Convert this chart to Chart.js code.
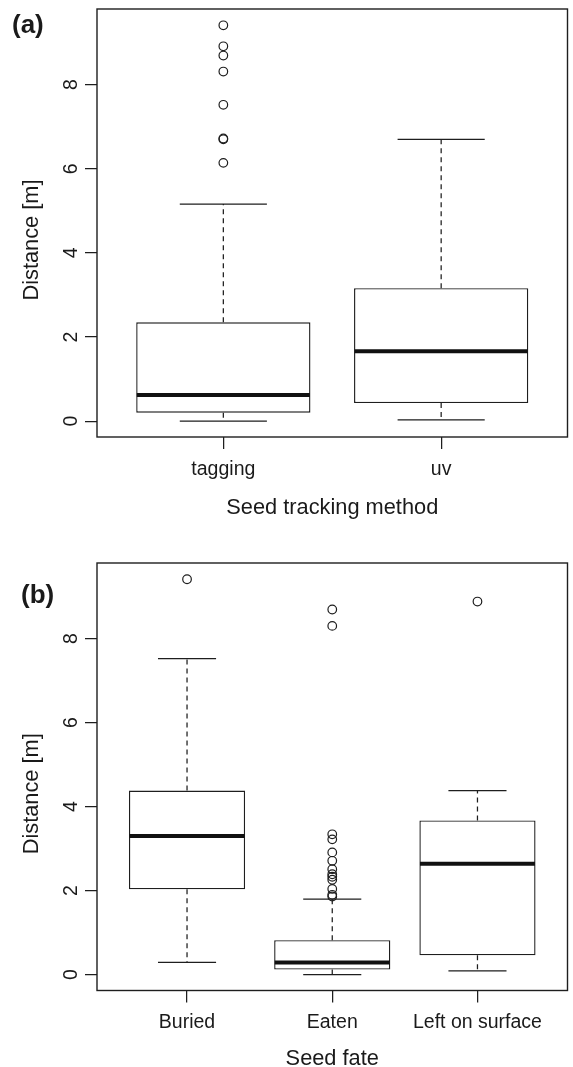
<!DOCTYPE html>
<html><head><meta charset="utf-8">
<script src="https://cdn.jsdelivr.net/npm/chart.js@4"></script>
<style>
html,body{margin:0;padding:0;background:#fff;}
#wrap{position:relative;width:573px;height:1067px;overflow:hidden;background:#fff;}
canvas{position:absolute;left:0;}
</style></head><body>
<div id="wrap">
<canvas id="ca" width="573" height="540" style="top:0px"></canvas>
<canvas id="cb" width="573" height="527" style="top:540px"></canvas>
</div>
<script>
// ---------- Panel (a): Seed tracking method ----------
const categoriesA = ['tagging', 'uv'];
const whiskerLowA = [0.00, 0.03];
const q1A = [0.20, 0.43];
const medianA = [0.62, 1.66];
const q3A = [2.35, 3.16];
const whiskerHighA = [5.16, 6.70];
const outliersTagging = [6.14, 6.70, 6.72, 7.52, 8.31, 8.69, 8.91, 9.41];
const outliersUv = [];

// ---------- Panel (b): Seed fate ----------
const categoriesB = ['Buried', 'Eaten', 'Left on surface'];
const whiskerLowB = [0.29, 0.00, 0.09];
const q1B = [2.03, 0.12, 0.46];
const medianB = [3.30, 0.29, 2.64];
const q3B = [4.38, 0.82, 3.67];
const whiskerHighB = [7.52, 1.80, 4.38];
const outliersBuried = [9.41];
const outliersEaten = [1.86, 1.90, 2.04, 2.26, 2.33, 2.39, 2.51, 2.71, 2.91, 3.22, 3.34, 8.30, 8.69];
const outliersLeft = [8.88];

const yTickValues = [0, 2, 4, 6, 8];
const yTitle = 'Distance [m]';

const INK = '#1e1e1e';
const FONT = "'Liberation Sans', Arial, Helvetica, sans-serif";

function makePanel(canvasId, p) {
  const canvas = document.getElementById(canvasId);
  const W = canvas.width, H = canvas.height;
  const n = p.categories.length;
  const boxData = p.categories.map((c, i) => ({ x: i + 1, y: [p.q1[i], p.q3[i]] }));
  const outData = [];
  p.outliers.forEach((arr, i) => arr.forEach(v => outData.push({ x: i + 1, y: v })));

  const decor = {
    id: 'decor_' + canvasId,
    beforeDatasetsDraw(chart) {
      const ctx = chart.ctx, xs = chart.scales.x, ys = chart.scales.y;
      ctx.save();
      ctx.strokeStyle = INK;
      ctx.lineWidth = 1.25;
      for (let i = 0; i < n; i++) {
        const cx = xs.getPixelForValue(i + 1);
        const capL = xs.getPixelForValue(i + 1 - 0.2), capR = xs.getPixelForValue(i + 1 + 0.2);
        ctx.setLineDash([5, 4]);
        ctx.beginPath();
        ctx.moveTo(cx, ys.getPixelForValue(p.q3[i]));
        ctx.lineTo(cx, ys.getPixelForValue(p.hi[i]));
        ctx.moveTo(cx, ys.getPixelForValue(p.q1[i]));
        ctx.lineTo(cx, ys.getPixelForValue(p.lo[i]));
        ctx.stroke();
        ctx.setLineDash([]);
        ctx.beginPath();
        const yh = ys.getPixelForValue(p.hi[i]), yl = ys.getPixelForValue(p.lo[i]);
        ctx.moveTo(capL, yh); ctx.lineTo(capR, yh);
        ctx.moveTo(capL, yl); ctx.lineTo(capR, yl);
        ctx.stroke();
      }
      ctx.restore();
    },
    afterDatasetsDraw(chart) {
      const ctx = chart.ctx, xs = chart.scales.x, ys = chart.scales.y;
      ctx.save();
      ctx.strokeStyle = '#111';
      ctx.lineWidth = 4;
      ctx.lineCap = 'butt';
      for (let i = 0; i < n; i++) {
        const l = xs.getPixelForValue(i + 1 - 0.4) + 0.6, r = xs.getPixelForValue(i + 1 + 0.4) - 0.6;
        const y = ys.getPixelForValue(p.med[i]);
        ctx.beginPath(); ctx.moveTo(l, y); ctx.lineTo(r, y); ctx.stroke();
      }
      ctx.restore();
    },
    afterDraw(chart) {
      const ctx = chart.ctx, xs = chart.scales.x, ys = chart.scales.y, a = chart.chartArea;
      ctx.save();
      ctx.strokeStyle = INK;
      ctx.lineWidth = 1.4;
      ctx.strokeRect(a.left, a.top, a.right - a.left, a.bottom - a.top);
      ctx.fillStyle = '#1a1a1a';
      // y tick labels (rotated, R style)
      ctx.font = '19.5px ' + FONT;
      ctx.textAlign = 'center';
      ctx.textBaseline = 'alphabetic';
      ys.ticks.forEach(t => {
        const y = ys.getPixelForValue(t.value);
        ctx.save();
        ctx.translate(a.left - 20, y);
        ctx.rotate(-Math.PI / 2);
        ctx.fillText(String(t.value), 0, 0);
        ctx.restore();
      });
      // x tick labels
      xs.ticks.forEach((t, i) => {
        ctx.fillText(p.categories[i], xs.getPixelForValue(t.value), a.bottom + 37.5);
      });
      // axis titles
      ctx.font = '21.8px ' + FONT;
      ctx.fillText(p.xTitle, (a.left + a.right) / 2, a.bottom + p.xTitleOffset);
      ctx.save();
      ctx.translate(37.5, (a.top + a.bottom) / 2 + 17);
      ctx.rotate(-Math.PI / 2);
      ctx.fillText(yTitle, 0, 0);
      ctx.restore();
      // panel label
      ctx.font = 'bold 26px ' + FONT;
      ctx.textAlign = 'left';
      ctx.fillText(p.panelLabel, p.labelX, p.labelY);
      ctx.restore();
    }
  };

  return new Chart(canvas, {
    type: 'bar',
    data: {
      datasets: [
        {
          type: 'scatter',
          data: outData,
          pointStyle: 'circle',
          pointRadius: 4.3,
          pointHoverRadius: 4.3,
          pointBorderWidth: 1.2,
          borderColor: INK,
          backgroundColor: 'rgba(0,0,0,0)',
          order: 1
        },
        {
          type: 'bar',
          data: boxData,
          backgroundColor: '#ffffff',
          borderColor: INK,
          borderWidth: 1.4,
          borderSkipped: false,
          categoryPercentage: 0.8,
          barPercentage: 1.0,
          order: 2
        }
      ]
    },
    options: {
      responsive: false,
      animation: false,
      devicePixelRatio: 1,
      events: [],
      layout: { padding: { left: 0, right: W - p.area.right, top: p.area.top, bottom: 0 } },
      plugins: { legend: { display: false }, tooltip: { enabled: false } },
      scales: {
        x: {
          type: 'linear',
          min: p.xmin, max: p.xmax,
          offset: false,
          afterBuildTicks: s => { s.ticks = p.categories.map((c, i) => ({ value: i + 1 })); },
          afterFit: s => { s.height = H - p.area.bottom; },
          ticks: { display: false },
          grid: { display: true, offset: false, drawOnChartArea: false, drawTicks: true, tickLength: 12, color: INK, lineWidth: 1.25 },
          border: { display: false }
        },
        y: {
          type: 'linear',
          min: p.ymin, max: p.ymax,
          afterBuildTicks: s => { s.ticks = yTickValues.map(v => ({ value: v })); },
          afterFit: s => { s.width = p.area.left; },
          ticks: { display: false },
          grid: { display: true, drawOnChartArea: false, drawTicks: true, tickLength: 12, color: INK, lineWidth: 1.25 },
          border: { display: false }
        }
      }
    },
    plugins: [decor]
  });
}

makePanel('ca', {
  categories: categoriesA, lo: whiskerLowA, q1: q1A, med: medianA, q3: q3A, hi: whiskerHighA,
  outliers: [outliersTagging, outliersUv],
  xmin: 0.42, xmax: 2.58, ymin: -0.377, ymax: 9.797,
  area: { left: 97, right: 572.5, top: 9, bottom: 437 },
  xTitle: 'Seed tracking method', xTitleOffset: 77,
  panelLabel: '(a)', labelX: 12, labelY: 33
});

makePanel('cb', {
  categories: categoriesB, lo: whiskerLowB, q1: q1B, med: medianB, q3: q3B, hi: whiskerHighB,
  outliers: [outliersBuried, outliersEaten, outliersLeft],
  xmin: 0.38, xmax: 3.62, ymin: -0.377, ymax: 9.797,
  area: { left: 97, right: 572.5, top: 23, bottom: 450.5 },
  xTitle: 'Seed fate', xTitleOffset: 74,
  panelLabel: '(b)', labelX: 21, labelY: 63
});
</script>
</body></html>
